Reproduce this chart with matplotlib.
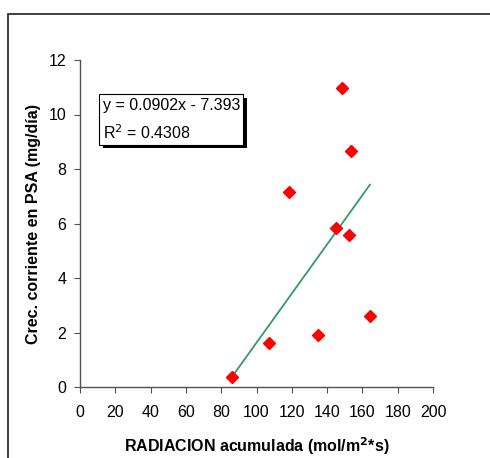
import matplotlib
matplotlib.use("Agg")
import matplotlib.pyplot as plt
import matplotlib.patheffects as pe
from matplotlib.patches import Rectangle
import numpy as np

# data
radiacion = [86.1, 107.1, 118.4, 134.8, 145.0, 148.4, 152.4, 153.6, 164.3]
crec = [0.37, 1.61, 7.16, 1.91, 5.83, 10.97, 5.58, 8.66, 2.61]
slope = 0.0902
intercept = -7.393
r2 = 0.4308
xticks = list(range(0, 201, 20))
yticks = list(range(0, 13, 2))

plt.rcParams['font.family'] = ['Liberation Sans', 'DejaVu Sans']

fig = plt.figure(figsize=(4.9, 4.58), dpi=100)
ax = fig.add_axes([0.1633, 0.155, 0.7204, 0.714])

# chart-area frame (cut by the image edges on right/bottom)
fig.patches.append(Rectangle((8 / 490, -0.1), 1.2, 0.1 + 1 - 14 / 458,
                             transform=fig.transFigure, fill=False,
                             edgecolor='#303030', linewidth=1.3))

ax.plot(radiacion, crec, linestyle='none', marker='D', markersize=6,
        color='#ff0000', markeredgecolor='#ff0000', zorder=3)

xfit = np.array([min(radiacion), max(radiacion)])
ax.plot(xfit, slope * xfit + intercept, color='#339966', linewidth=1.3, zorder=2)

ax.set_xlim(0, 200)
ax.set_ylim(0, 12)
ax.set_xticks(xticks)
ax.set_yticks(yticks)
ax.spines['top'].set_visible(False)
ax.spines['right'].set_visible(False)
for s in ('left', 'bottom'):
    ax.spines[s].set_color('#505050')
    ax.spines[s].set_linewidth(1.0)
ax.tick_params(direction='out', length=4, width=0.8, color='#505050',
               labelsize=11.5, labelcolor='black')
ax.tick_params(axis='x', pad=9)
ax.tick_params(axis='y', pad=6)

ax.set_xlabel('RADIACION acumulada (mol/m$^{\\mathbf{2}}$*s)', fontsize=11.5,
              fontweight='bold', labelpad=11)
ax.set_ylabel('Crec. corriente en PSA (mg/día)', fontsize=11.5,
              fontweight='bold', labelpad=5)

t = ax.text(12.8, 10.62, 'y = 0.0902x - 7.393\nR$^2$ = %.4f' % r2,
            fontsize=11.5, ha='left', va='top', linespacing=1.65,
            bbox=dict(boxstyle='square,pad=0.22', facecolor='white',
                      edgecolor='black', linewidth=0.8))
t.get_bbox_patch().set_path_effects([
    pe.withSimplePatchShadow(offset=(2.5, -2.5), shadow_rgbFace='black', alpha=1.0)
])

fig.savefig('out.png', dpi=100)
